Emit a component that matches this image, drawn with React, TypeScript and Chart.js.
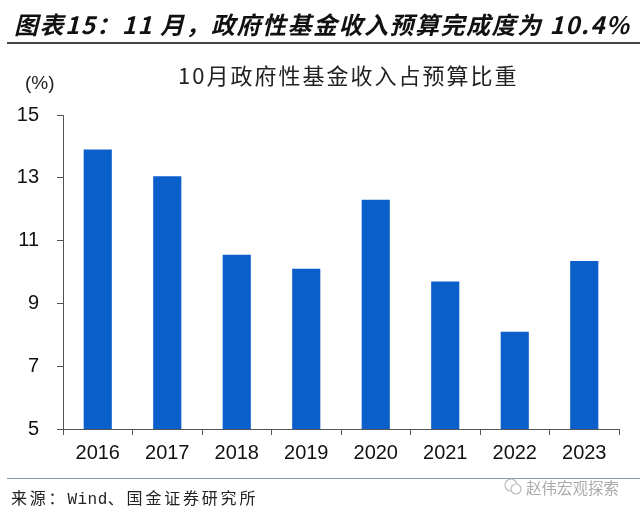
import React, { useEffect, useRef } from "react";
import { Chart, registerables } from "chart.js";

Chart.register(...registerables);

const categories = ["2016", "2017", "2018", "2019", "2020", "2021", "2022", "2023"];
const values = [13.9, 13.05, 10.55, 10.1, 12.3, 9.7, 8.1, 10.35];
const yTicks = [5, 7, 9, 11, 13, 15];
const heading = "图表15\uFF1A11 月\uFF0C政府性基金收入预算完成度为 10.4%";
const chartTitle = "10月政府性基金收入占预算比重";
const unit = "(%)";
const sourceLead = "来源\uFF1A";
const sourceWind = "Wind";
const sourceTail = "、国金证券研究所";
const watermark = "赵伟宏观探索";

const CJK = '"Noto Sans CJK SC", "Liberation Sans", sans-serif';
const LATIN = '"Liberation Sans", Arial, sans-serif';

const abs = (o: React.CSSProperties): React.CSSProperties => ({ position: "absolute", whiteSpace: "nowrap", ...o });

export default function App() {
  const ref = useRef<HTMLCanvasElement>(null);
  useEffect(() => {
    const chart = new Chart(ref.current!, {
      type: "bar",
      data: {
        labels: categories,
        datasets: [{ data: values, backgroundColor: "#0b5fca", barPercentage: 0.405, categoryPercentage: 1 }],
      },
      options: {
        responsive: false,
        animation: false,
        layout: { padding: { left: 0, right: 21, top: 115, bottom: 0 } },
        plugins: {
          legend: { display: false },
          tooltip: { enabled: false },
          title: { display: false },
        },
        scales: {
          x: {
            grid: { drawOnChartArea: false, drawTicks: true, tickLength: 6, color: "#555", offset: true },
            border: { color: "#555", width: 1 },
            ticks: { color: "#111", font: { family: LATIN, size: 20 }, padding: 6, maxRotation: 0 },
            afterFit: (s: any) => { s.height = 86; },
          },
          y: {
            min: 5,
            max: 15,
            afterBuildTicks: (s: any) => { s.ticks = yTicks.map((v) => ({ value: v })); },
            grid: { drawOnChartArea: false, drawTicks: true, tickLength: 6, color: "#555" },
            border: { color: "#555", width: 1 },
            ticks: { color: "#111", font: { family: LATIN, size: 20 }, padding: 18 },
            afterFit: (s: any) => { s.width = 63; },
          },
        },
      },
    });
    return () => chart.destroy();
  }, []);

  return (
    <div style={{ position: "absolute", left: 0, top: 0, width: 640, height: 515, background: "#fff", overflow: "hidden" }}>
      <canvas ref={ref} width={640} height={515} style={{ position: "absolute", left: 0, top: 0 }} />
      <div style={abs({ left: 14, top: 8, fontFamily: CJK, fontSize: 24, fontWeight: 700, fontStyle: "italic", color: "#111", lineHeight: "32px", letterSpacing: 1.5 })}>{heading}</div>
      <div style={abs({ left: 7, top: 42, width: 633, height: 2, background: "#444" })} />
      <div style={abs({ left: 178, top: 58, fontFamily: CJK, fontSize: 22, color: "#222", lineHeight: "32px", letterSpacing: 2 })}>{chartTitle}</div>
      <div style={abs({ left: 25, top: 71, fontFamily: LATIN, fontSize: 19, color: "#222", lineHeight: "24px" })}>{unit}</div>
      <div style={abs({ left: 7, top: 478, width: 633, height: 1, background: "#7f9db5" })} />
      <div style={abs({ left: 11, top: 486, fontFamily: CJK, fontSize: 16, color: "#222", lineHeight: "22px", letterSpacing: 2.8 })}>
        {sourceLead}
        <span style={{ fontFamily: '"Liberation Mono", monospace', letterSpacing: 0.5 }}>{sourceWind}</span>
        {sourceTail}
      </div>
      <svg width="20" height="18" style={{ position: "absolute", left: 503, top: 478 }}>
        <circle cx="8" cy="7" r="6" fill="none" stroke="#bbb" strokeWidth="1.2" />
        <circle cx="13" cy="11" r="5" fill="#fff" stroke="#bbb" strokeWidth="1.2" />
      </svg>
      <div style={abs({ left: 526, top: 476, fontFamily: CJK, fontSize: 15.5, color: "#aaa", lineHeight: "22px" })}>{watermark}</div>
    </div>
  );
}
